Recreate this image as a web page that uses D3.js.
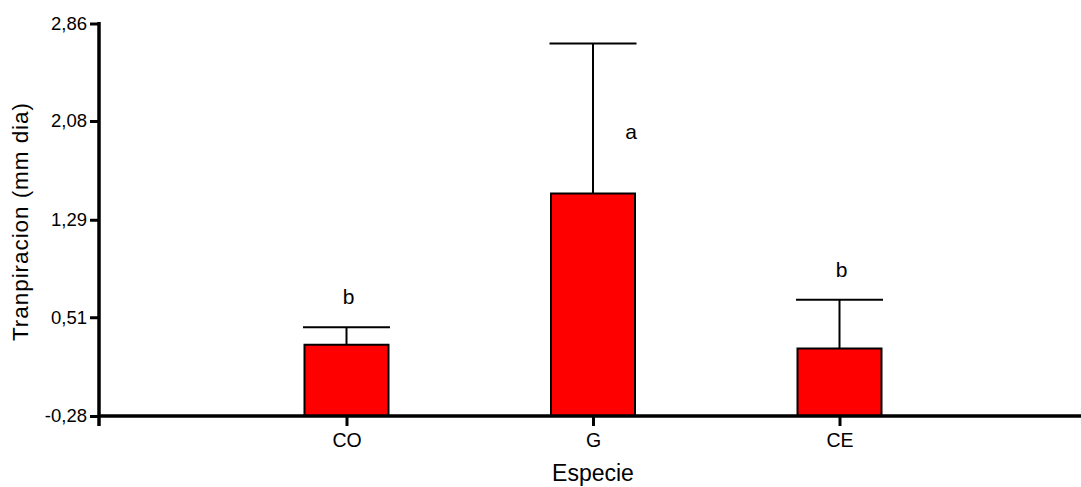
<!DOCTYPE html>
<html>
<head>
<meta charset="utf-8">
<script src="https://cdn.jsdelivr.net/npm/d3@7"></script>
<style>
  html, body { margin: 0; padding: 0; background: #fff; }
  svg { display: block; font-family: "Liberation Sans", Arial, sans-serif; }
</style>
</head>
<body>
<svg id="chart" width="1081" height="487"></svg>
<script>
// Mean transpiration per species, upper error limit and significance letters
const categories = ["CO", "G", "CE"];
const means = [0.29, 1.50, 0.26];
const upperLimits = [0.43, 2.70, 0.65];
const letters = ["b", "a", "b"];

// Y axis ticks
const yTickValues = [-0.28, 0.51, 1.29, 2.08, 2.86];
const yTickLabels = ["-0,28", "0,51", "1,29", "2,08", "2,86"];

const svg = d3.select("#chart");
const W = 1081, H = 487;
const plotLeft = 99, plotBottom = 416, plotTop = 23.5;

const y = d3.scaleLinear().domain([-0.28, 2.86]).range([plotBottom, plotTop]);
const x = d3.scalePoint().domain(categories).range([100, 1086]).padding(1);
const barW = 84, capW = 87;

// Bars
svg.append("g").selectAll("rect")
  .data(categories)
  .join("rect")
  .attr("x", d => x(d) - barW / 2)
  .attr("y", (d, i) => y(means[i]))
  .attr("width", barW)
  .attr("height", (d, i) => y(-0.28) - y(means[i]))
  .attr("fill", "#ff0000")
  .attr("stroke", "#000")
  .attr("stroke-width", 2);

// Upper error bars
const err = svg.append("g").attr("stroke", "#000").attr("stroke-width", 2);
categories.forEach((c, i) => {
  err.append("line")
    .attr("x1", x(c)).attr("x2", x(c))
    .attr("y1", y(means[i])).attr("y2", y(upperLimits[i]));
  err.append("line")
    .attr("x1", x(c) - capW / 2).attr("x2", x(c) + capW / 2)
    .attr("y1", y(upperLimits[i])).attr("y2", y(upperLimits[i]));
});

// Significance letters: above the whisker, or beside it when the whisker is tall
svg.append("g").selectAll("text")
  .data(categories)
  .join("text")
  .attr("x", (d, i) => upperLimits[i] > 2 ? x(d) + 38 : x(d) + 2)
  .attr("y", (d, i) => upperLimits[i] > 2 ? y(2.08) + 18 : y(upperLimits[i]) - 23)
  .attr("text-anchor", "middle")
  .attr("font-size", 21)
  .attr("fill", "#000")
  .text((d, i) => letters[i]);

// Y axis
const yAxis = d3.axisLeft(y)
  .tickValues(yTickValues)
  .tickFormat((d, i) => yTickLabels[i])
  .tickSize(9)
  .tickPadding(3);
const gy = svg.append("g").attr("transform", `translate(${plotLeft},0)`).call(yAxis);
gy.select(".domain").remove();
gy.selectAll(".tick line").attr("stroke", "#000").attr("stroke-width", 3);
gy.selectAll(".tick text").attr("font-size", 18.5).attr("font-family", "Liberation Sans, Arial, sans-serif").attr("fill", "#000");

// X axis
const xAxis = d3.axisBottom(x).tickSize(10).tickPadding(7);
const gx = svg.append("g").attr("transform", `translate(0,${plotBottom})`).call(xAxis);
gx.select(".domain").remove();
gx.selectAll(".tick line").attr("stroke", "#000").attr("stroke-width", 3);
gx.selectAll(".tick text").attr("font-size", 19.5).attr("font-family", "Liberation Sans, Arial, sans-serif").attr("fill", "#000");

// Axis lines
svg.append("line")
  .attr("x1", plotLeft).attr("x2", plotLeft)
  .attr("y1", plotTop - 1.5).attr("y2", plotBottom + 10)
  .attr("stroke", "#000").attr("stroke-width", 3.5);
svg.append("line")
  .attr("x1", plotLeft).attr("x2", W)
  .attr("y1", plotBottom).attr("y2", plotBottom)
  .attr("stroke", "#000").attr("stroke-width", 3.5);

// Axis titles
svg.append("text")
  .attr("x", 593).attr("y", 481)
  .attr("text-anchor", "middle")
  .attr("font-size", 23)
  .text("Especie");
svg.append("text")
  .attr("transform", "translate(28,222) rotate(-90)")
  .attr("text-anchor", "middle")
  .attr("font-size", 22.5)
  .attr("textLength", 238)
  .attr("lengthAdjust", "spacing")
  .text("Tranpiracion (mm dia)");
</script>
</body>
</html>
